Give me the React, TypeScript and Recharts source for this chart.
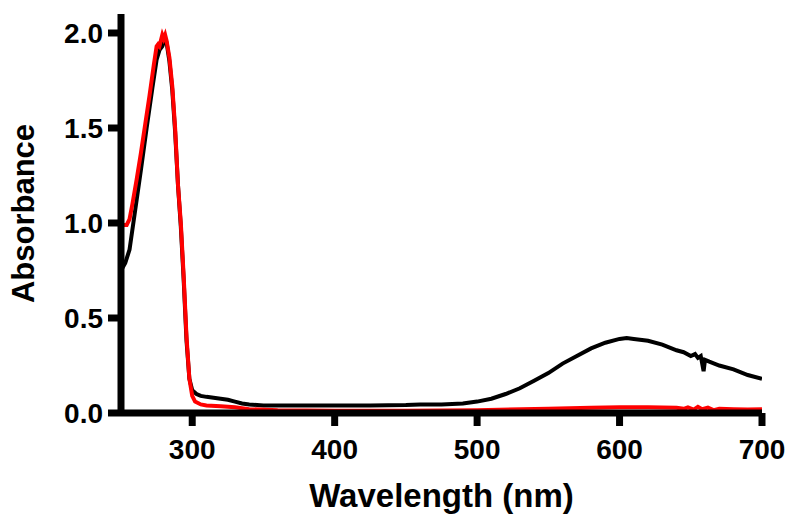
import React from 'react';
import { LineChart, Line, XAxis, YAxis } from 'recharts';

// black trace (wavelength nm / absorbance)
const blackWl = [250, 253, 256, 260, 264, 268, 272, 275, 277, 279, 280, 281, 282, 284, 286, 288, 290, 292, 294, 296, 298, 300, 303, 306, 310, 315, 320, 325, 330, 335, 340, 350, 375, 400, 425, 450, 460, 475, 490, 500, 510, 520, 530, 540, 550, 560, 570, 580, 590, 600, 605, 610, 620, 630, 640, 645, 650, 653, 655, 657, 659, 660, 663, 670, 680, 690, 700];
const blackAbs = [0.75, 0.79, 0.86, 1.07, 1.28, 1.5, 1.71, 1.86, 1.91, 1.93, 1.95, 1.97, 1.95, 1.85, 1.7, 1.48, 1.2, 0.98, 0.7, 0.38, 0.18, 0.12, 0.1, 0.09, 0.085, 0.08, 0.075, 0.07, 0.06, 0.05, 0.045, 0.04, 0.04, 0.04, 0.04, 0.042, 0.045, 0.045, 0.05, 0.06, 0.075, 0.1, 0.13, 0.17, 0.21, 0.26, 0.3, 0.34, 0.37, 0.39, 0.395, 0.39, 0.38, 0.36, 0.33, 0.32, 0.3, 0.31, 0.29, 0.3, 0.22, 0.28, 0.27, 0.25, 0.23, 0.2, 0.18];

// red trace
const redWl = [250, 254, 256, 258, 261, 264, 267, 270, 273, 275, 276, 277, 278, 279, 280, 281, 282, 284, 286, 288, 290, 292, 294, 296, 298, 300, 302, 306, 310, 320, 330, 340, 360, 400, 450, 500, 550, 580, 600, 620, 640, 645, 648, 652, 655, 658, 662, 666, 670, 680, 690, 700];
const redAbs = [0.99, 0.99, 1.02, 1.1, 1.23, 1.37, 1.52, 1.67, 1.83, 1.93, 1.94, 1.93, 1.96, 1.99, 1.97, 1.99, 1.96, 1.87, 1.72, 1.5, 1.2, 1.0, 0.72, 0.4, 0.18, 0.09, 0.06, 0.045, 0.04, 0.035, 0.03, 0.02, 0.015, 0.012, 0.012, 0.015, 0.022, 0.028, 0.03, 0.03, 0.028, 0.022, 0.03, 0.018, 0.032, 0.02, 0.028, 0.015, 0.022, 0.02, 0.018, 0.02];

const xTicks = [300, 400, 500, 600, 700];
const yTicks = [0, 0.5, 1.0, 1.5, 2.0];

const blackData = blackWl.map((x, i) => ({ x, y: blackAbs[i] }));
const redData = redWl.map((x, i) => ({ x, y: redAbs[i] }));

const font = '"Liberation Sans", Arial, sans-serif';
const tickStyle = { fill: '#000', fontSize: 28, fontWeight: 'bold', fontFamily: font };
const axisStroke = { stroke: '#000', strokeWidth: 7 };

export default function App() {
    return (
        <div style={{ position: 'absolute', left: 0, top: 0, background: '#fff' }}>
            <LineChart width={800} height={527} margin={{ top: 14, right: 38, bottom: 0, left: 0 }}>
                <XAxis
                    type="number"
                    dataKey="x"
                    domain={[250, 700]}
                    ticks={xTicks}
                    allowDataOverflow
                    height={114}
                    tickSize={13}
                    tickMargin={13}
                    axisLine={axisStroke}
                    tickLine={axisStroke}
                    tick={tickStyle}
                    label={{ value: 'Wavelength (nm)', position: 'insideBottom', offset: 20, style: { fill: '#000', fontSize: 33, fontWeight: 'bold', fontFamily: font } }}
                />
                <YAxis
                    type="number"
                    dataKey="y"
                    domain={[0, 2.1]}
                    ticks={yTicks}
                    allowDataOverflow
                    width={121}
                    tickSize={13}
                    tickMargin={5}
                    tickFormatter={(v: number) => v.toFixed(1)}
                    axisLine={axisStroke}
                    tickLine={axisStroke}
                    tick={tickStyle}
                    label={{ value: 'Absorbance', angle: -90, position: 'insideLeft', offset: 23, style: { textAnchor: 'middle', fill: '#000', fontSize: 31, fontWeight: 'bold', fontFamily: font } }}
                />
                <Line data={blackData} dataKey="y" type="linear" stroke="#000" strokeWidth={4} dot={false} isAnimationActive={false} />
                <Line data={redData} dataKey="y" type="linear" stroke="#f00" strokeWidth={4} dot={false} isAnimationActive={false} />
            </LineChart>
        </div>
    );
}
